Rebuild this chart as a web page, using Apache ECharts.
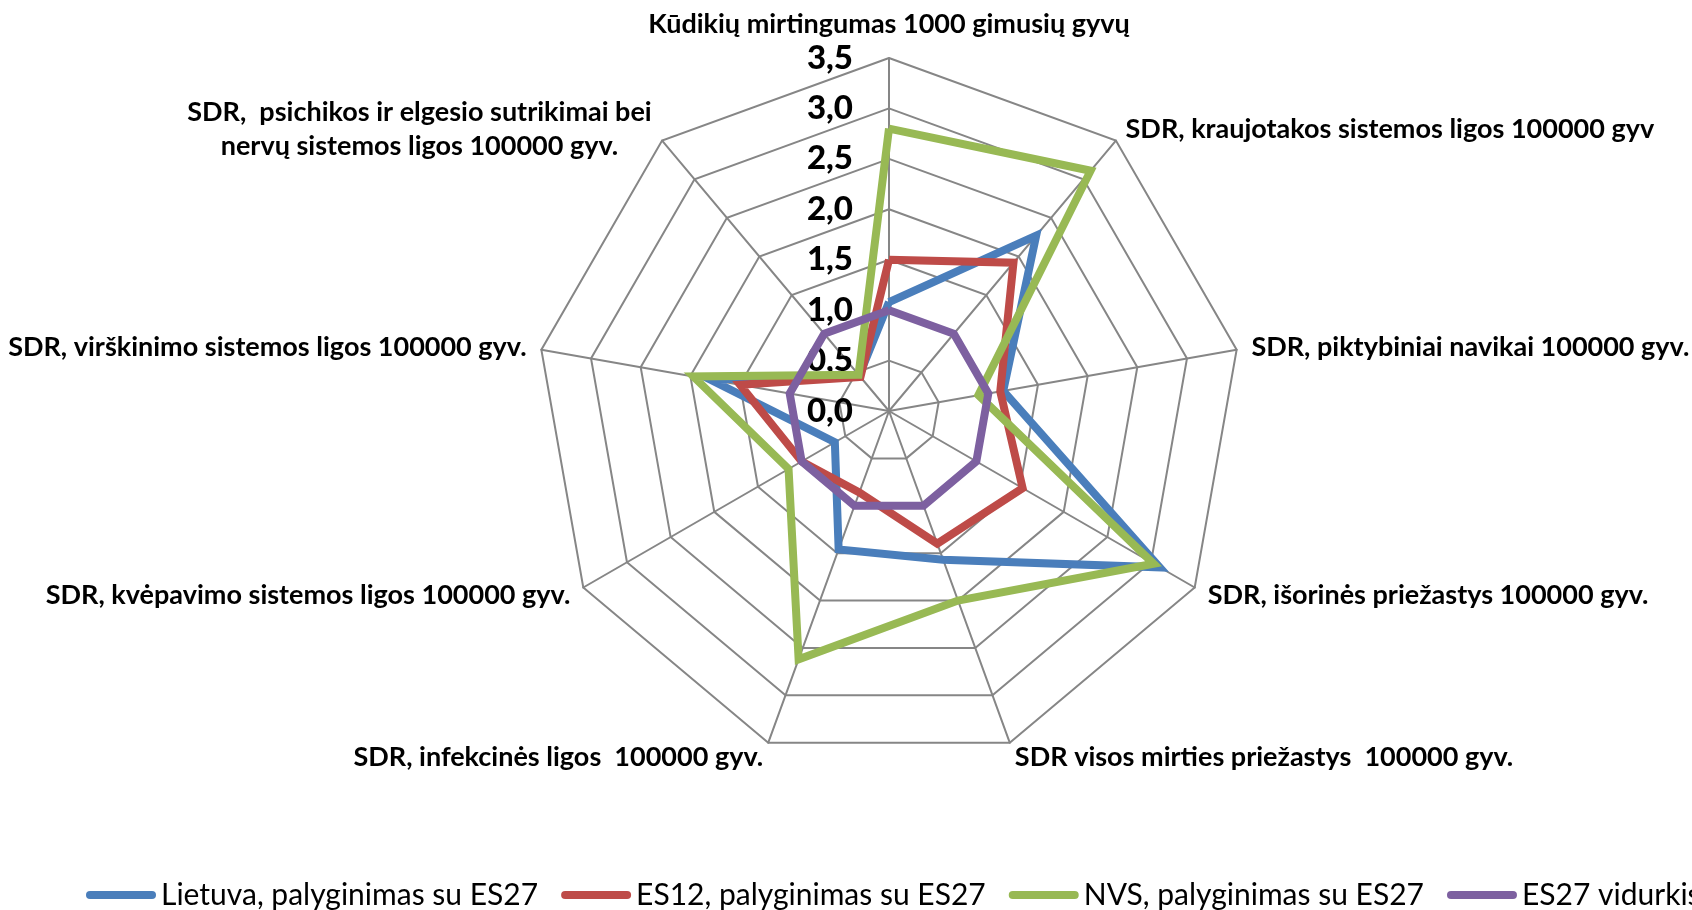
<!DOCTYPE html>
<html>
<head>
<meta charset="utf-8">
<script src="https://cdn.jsdelivr.net/npm/echarts@6/dist/echarts.min.js"></script>
<style>
  html, body { margin: 0; padding: 0; background: #fff; }
  #chart { width: 1692px; height: 910px; }
</style>
</head>
<body>
<div id="chart"></div>
<script>
// rodikliai pagal laikrodzio rodykle, pradedant nuo virsaus
const categories = [
  "Kūdikių mirtingumas 1000 gimusių gyvų",
  "SDR, kraujotakos sistemos ligos 100000 gyv",
  "SDR, piktybiniai navikai 100000 gyv.",
  "SDR, išorinės priežastys 100000 gyv.",
  "SDR visos mirties priežastys  100000 gyv.",
  "SDR, infekcinės ligos  100000 gyv.",
  "SDR, kvėpavimo sistemos ligos 100000 gyv.",
  "SDR, virškinimo sistemos ligos 100000 gyv.",
  "SDR,  psichikos ir elgesio sutrikimai bei\nnervų sistemos ligos 100000 gyv."
];
const seriesNames = [
  "Lietuva, palyginimas su ES27",
  "ES12, palyginimas su ES27",
  "NVS, palyginimas su ES27",
  "ES27 vidurkis"
];
const lietuva = [1.08, 2.27, 1.15, 3.1, 1.57, 1.46, 0.62, 1.8, 0.46];
const es12 = [1.5, 1.92, 1.12, 1.53, 1.4, 0.86, 1.0, 1.5, 0.44];
const nvs = [2.8, 3.11, 0.9, 3.03, 2.0, 2.62, 1.15, 1.97, 0.47];
const es27 = [1, 1, 1, 1, 1, 1, 1, 1, 1];
const tickLabels = ["0,0", "0,5", "1,0", "1,5", "2,0", "2,5", "3,0", "3,5"];
const colors = ["#4A7EBB", "#BE4B48", "#98B954", "#7D60A0"];

// echarts radar eina pries laikrodzio rodykle, todel sukeiciam tvarka
const order = [0, 8, 7, 6, 5, 4, 3, 2, 1];
const reorder = arr => order.map(i => arr[i]);

const indicator = reorder(categories).map((name, i) => {
  const ind = { name: name, min: 0, max: 3.5 };
  if (i === 0) ind.axisLabel = { show: true };
  return ind;
});

const chart = echarts.init(document.getElementById("chart"));
const font = "Lato";

chart.setOption({
  animation: false,
  color: colors,
  legend: {
    left: 81,
    top: 875,
    width: 3000,
    itemWidth: 70,
    itemHeight: 8,
    itemGap: 23,
    icon: "path://M4,0 H66 A4,4 0 0 1 66,8 H4 A4,4 0 0 1 4,0 Z",
    textStyle: { fontFamily: font, fontSize: 30, color: "#000" },
    data: seriesNames
  },
  radar: {
    center: [889, 411],
    radius: 353,
    startAngle: 90,
    splitNumber: 7,
    shape: "polygon",
    axisName: {
      color: "#000",
      fontFamily: font,
      fontSize: 27,
      fontWeight: "bold",
      lineHeight: 34,
      formatter: function (name) {
        if (name.indexOf("\n") >= 0) {
          return name.split("\n").map(s => "{c|" + s + "}").join("\n");
        }
        return name;
      },
      rich: {
        c: {
          width: 466,
          align: "center",
          fontFamily: font,
          fontSize: 27,
          fontWeight: "bold",
          lineHeight: 34,
          color: "#000"
        }
      }
    },
    nameGap: 15,
    axisLine: { lineStyle: { color: "#868686", width: 2 } },
    splitLine: { lineStyle: { color: "#868686", width: 2 } },
    splitArea: { show: false },
    axisTick: { show: false },
    axisLabel: {
      show: false,
      margin: 36,
      color: "#000",
      fontFamily: font,
      fontSize: 33,
      fontWeight: 900,
      formatter: function (v) {
        return tickLabels[Math.round(v / 0.5)];
      }
    },
    indicator: indicator
  },
  series: [
    {
      type: "radar",
      symbol: "none",
      lineStyle: { width: 8, join: "miter" },
      data: [
        { name: seriesNames[0], value: reorder(lietuva), lineStyle: { color: colors[0], width: 8 } },
        { name: seriesNames[1], value: reorder(es12), lineStyle: { color: colors[1], width: 8 } },
        { name: seriesNames[2], value: reorder(nvs), lineStyle: { color: colors[2], width: 8 } },
        { name: seriesNames[3], value: reorder(es27), lineStyle: { color: colors[3], width: 8 } }
      ]
    }
  ]
});
</script>
</body>
</html>
